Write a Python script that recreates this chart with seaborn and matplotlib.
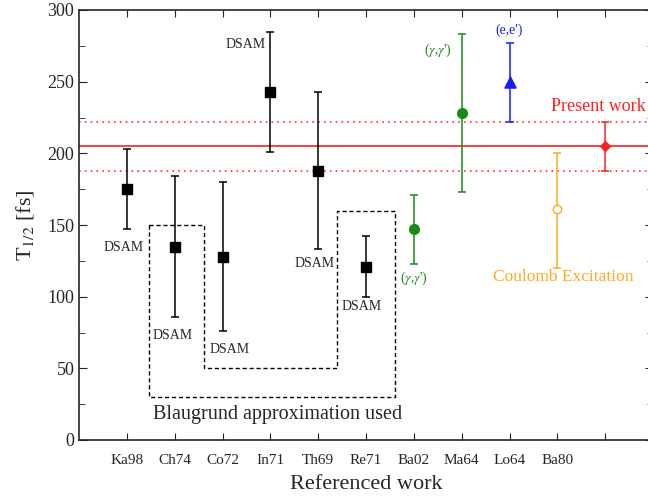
import matplotlib
matplotlib.use("Agg")
import matplotlib.pyplot as plt
import seaborn as sns
import numpy as np
import pandas as pd

refs = ["Ka98", "Ch74", "Co72", "In71", "Th69", "Re71", "Ba02", "Ma64", "Lo64", "Ba80", ""]
values = [175, 135, 128, 243, 188, 121, 147, 228, 250, 161, 205]
err_low = [147, 86, 76, 201, 133, 100, 123, 173, 222, 120, 188]
err_high = [203, 184, 180, 285, 243, 142, 171, 283, 277, 200, 222]
methods = ["DSAM"] * 6 + ["gg", "gg", "ee", "coul", "present"]

present_value = 205
present_low = 188
present_high = 222

box_x = [1.45, 2.6, 2.6, 5.4, 5.4, 6.6, 6.6, 1.45, 1.45]
box_y = [150, 150, 50, 50, 160, 160, 30, 30, 150]

sns.set_style("ticks")
plt.rcParams["font.family"] = ["Liberation Serif", "DejaVu Serif"]
plt.rcParams["mathtext.fontset"] = "stix"

df = pd.DataFrame({"pos": np.arange(1, len(refs) + 1), "ref": refs, "T": values,
                   "lo": err_low, "hi": err_high, "method": methods})

fig = plt.figure(figsize=(6.48, 4.97), dpi=100)
ax = fig.add_axes([79.2 / 648, 57 / 497, (653 - 79.2) / 648, 430 / 497])

style = {
    "DSAM": dict(color="black", marker="s", ms=7, mfc="black"),
    "gg": dict(color="#1a8a1a", marker="o", ms=7, mfc="#1a8a1a"),
    "ee": dict(color="#1a1aff", marker="^", ms=8, mfc="#1a1aff"),
    "coul": dict(color="#ffaa22", marker="o", ms=6, mfc="white"),
    "present": dict(color="#ff2020", marker="D", ms=5, mfc="#ff2020"),
}

ax.axhline(present_value, color="#ff3030", lw=1.3, zorder=1)
ax.axhline(present_low, color="#ff3030", lw=1.2, ls=(0, (1, 2.5)), zorder=1)
ax.axhline(present_high, color="#ff3030", lw=1.2, ls=(0, (1, 2.5)), zorder=1)

for m, sub in df.groupby("method"):
    st = style[m]
    ax.errorbar(sub["pos"], sub["T"], yerr=[sub["T"] - sub["lo"], sub["hi"] - sub["T"]],
                fmt="none", ecolor=st["color"], elinewidth=1.1, capsize=3, capthick=1.1, zorder=2)
    sns.scatterplot(x=sub["pos"], y=sub["T"], ax=ax, marker=st["marker"], s=st["ms"] ** 2,
                    color=st["mfc"], edgecolor=st["color"], linewidth=1, zorder=3, legend=False)

ax.plot(box_x, box_y, color="black", ls=(0, (3, 2)), lw=1.0, zorder=1)

fs = 10
ax.text(0.93, 134, "DSAM", ha="center", va="center", fontsize=fs)
ax.text(1.95, 73, "DSAM", ha="center", va="center", fontsize=fs)
ax.text(3.14, 63, "DSAM", ha="center", va="center", fontsize=fs)
ax.text(3.47, 276, "DSAM", ha="center", va="center", fontsize=fs)
ax.text(4.93, 123, "DSAM", ha="center", va="center", fontsize=fs)
ax.text(5.9, 93, "DSAM", ha="center", va="center", fontsize=fs)
ax.text(4.15, 18, "Blaugrund approximation used", ha="center", va="center", fontsize=14.5)
ax.text(7.5, 272, "($\\gamma$,$\\gamma$')", ha="center", va="center", fontsize=10, color="#1a8a1a")
ax.text(7.0, 113, "($\\gamma$,$\\gamma$')", ha="center", va="center", fontsize=10, color="#1a8a1a")
ax.text(9.0, 286, "(e,e')", ha="center", va="center", fontsize=10, color="#1a1aff")
ax.text(10.85, 233, "Present work", ha="center", va="center", fontsize=13, color="#ff2020")
ax.text(10.12, 114, "Coulomb Excitation", ha="center", va="center", fontsize=12.5, color="#ffaa22")

ax.set_xlim(0, 12)
ax.set_ylim(0, 300)
ax.set_xticks(df["pos"])
ax.set_xticklabels(refs, fontsize=11)
ax.set_yticks(np.arange(0, 301, 50))
ax.set_yticks(np.arange(25, 300, 50), minor=True)
ax.tick_params(axis="y", labelsize=13, direction="in", length=6, right=True)
ax.tick_params(axis="y", which="minor", direction="in", length=4, right=True)
ax.tick_params(axis="x", direction="in", length=5, top=True, pad=10)
ax.tick_params(axis="x", which="minor", bottom=False, top=False)
for s in ax.spines.values():
    s.set_linewidth(1.2)
ax.set_xlabel("Referenced work", fontsize=16, labelpad=6)
ax.set_ylabel("T$_{1/2}$ [fs]", fontsize=16, labelpad=8)

fig.savefig("out.png", dpi=100)
